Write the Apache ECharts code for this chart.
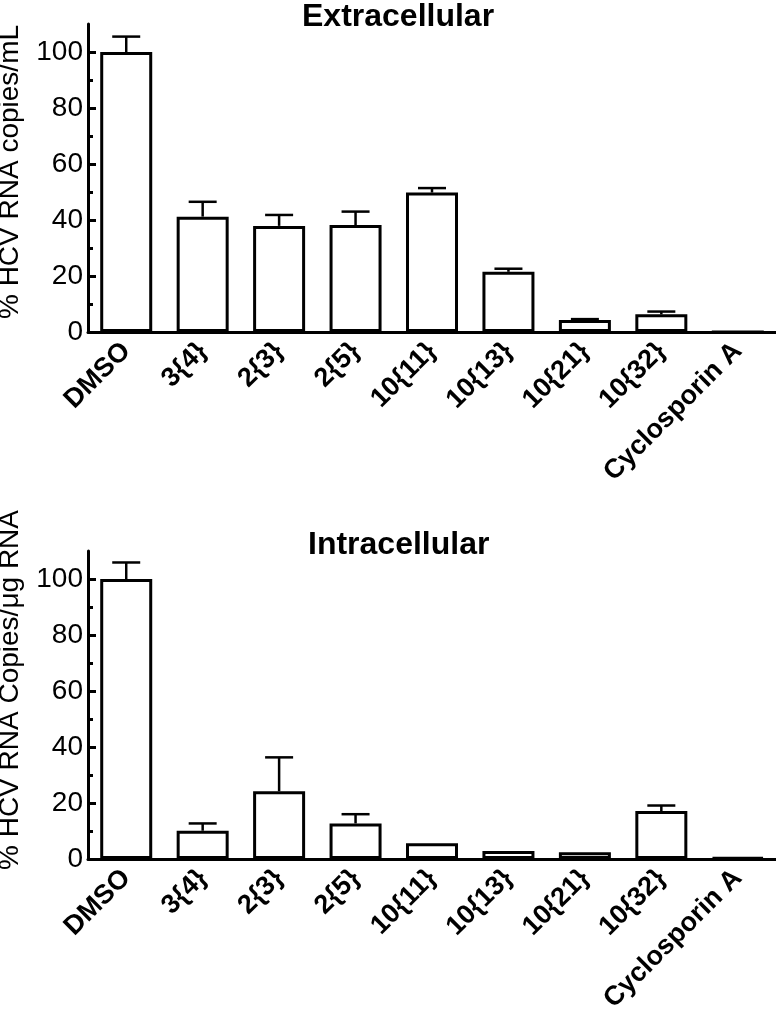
<!DOCTYPE html>
<html>
<head>
<meta charset="utf-8">
<script src="https://cdn.jsdelivr.net/npm/echarts@6/dist/echarts.min.js"></script>
<style>
html,body{margin:0;padding:0;background:#fff;}
#chart{width:776px;height:1020px;}
</style>
</head>
<body>
<div id="chart"></div>
<script>
var categories = ['DMSO', '3{4}', '2{3}', '2{5}', '10{11}', '10{13}', '10{21}', '10{32}', 'Cyclosporin A'];
var extraMean = [100, 41.2, 37.9, 38.2, 49.8, 21.5, 4.3, 6.3, 0];
var extraErr  = [5.5, 5.3, 3.9, 4.8, 1.6, 1.1, 0.3, 1.0, 0];
var intraMean = [100, 10.1, 24.2, 12.7, 5.6, 2.9, 2.4, 17.1, 0.5];
var intraErr  = [5.9, 2.6, 12.1, 3.3, 0, 0, 0, 2.0, 0];
var majorTicks = [0, 20, 40, 60, 80, 100];
var minorTicks = [10, 30, 50, 70, 90];
var titles = ['Extracellular', 'Intracellular'];
var yNames = ['% HCV RNA copies/mL', '% HCV RNA Copies/\u03bcg RNA'];

var FONT = '"Liberation Sans", Arial, sans-serif';

function errData(mean, err) {
  return mean.map(function (m, i) { return [i, m, err[i]]; });
}

function renderErr(params, api) {
  var x = api.value(0), y = api.value(1), e = api.value(2);
  if (!e) return null;
  var p0 = api.coord([x, y]);
  var p1 = api.coord([x, y + e]);
  var st = { stroke: '#000', lineWidth: 2.5 };
  return {
    type: 'group',
    children: [
      { type: 'line', shape: { x1: p0[0], y1: p0[1], x2: p1[0], y2: p1[1] }, style: st },
      { type: 'line', shape: { x1: p1[0] - 14, y1: p1[1], x2: p1[0] + 14, y2: p1[1] }, style: st }
    ]
  };
}

var grids = [
  { left: 88, right: 0, top: 24, height: 308, containLabel: false, outerBoundsMode: 'none' },
  { left: 88, right: 0, top: 551, height: 308, containLabel: false, outerBoundsMode: 'none' }
];

var xAxes = [], yAxes = [], series = [], titleOpts = [];
var titleTops = [1, 529];
var titleLefts = [302, 308];
var namePads = [[0, 0, 0, 12], [0, 0, 0, 30]];
var means = [extraMean, intraMean], errs = [extraErr, intraErr];

for (var g = 0; g < 2; g++) {
  titleOpts.push({
    text: titles[g], left: titleLefts[g], top: titleTops[g], padding: 0,
    textStyle: { fontFamily: FONT, fontSize: 32, fontWeight: 'bold', color: '#000' }
  });
  xAxes.push({
    type: 'category', gridIndex: g, data: categories,
    axisLine: { lineStyle: { color: '#000', width: 3 } },
    axisTick: { show: false },
    axisLabel: { interval: 0, rotate: 45, margin: 15, color: '#000', fontFamily: FONT, fontSize: 27, fontWeight: 'bold' },
    splitLine: { show: false }
  });
  yAxes.push({
    type: 'value', gridIndex: g, min: 0, max: 110, position: 'left',
    name: yNames[g], nameLocation: 'middle', nameGap: 64,
    nameTextStyle: { fontFamily: FONT, fontSize: 28, color: '#000', padding: namePads[g] },
    axisLine: { show: true, lineStyle: { color: '#000', width: 3 } },
    axisTick: { show: true, inside: true, length: 8, lineStyle: { color: '#000', width: 3 }, customValues: majorTicks },
    axisLabel: { customValues: majorTicks, margin: 5, color: '#000', fontFamily: FONT, fontSize: 28 },
    splitLine: { show: false }
  });
  yAxes.push({
    type: 'value', gridIndex: g, min: 0, max: 110, position: 'left', offset: 0,
    axisLine: { show: false },
    axisTick: { show: true, inside: true, length: 5, lineStyle: { color: '#000', width: 3 }, customValues: minorTicks },
    axisLabel: { show: false },
    splitLine: { show: false }
  });
  series.push({
    type: 'bar', xAxisIndex: g, yAxisIndex: g * 2, data: means[g], barWidth: 52,
    itemStyle: { color: '#fff', borderColor: '#000', borderWidth: 3 },
    silent: true, animation: false
  });
  series.push({
    type: 'custom', xAxisIndex: g, yAxisIndex: g * 2, data: errData(means[g], errs[g]),
    encode: { x: 0, y: 1 }, renderItem: renderErr, z: 3, silent: true, animation: false
  });
}

var chart = echarts.init(document.getElementById('chart'));
chart.setOption({
  backgroundColor: '#fff',
  animation: false,
  title: titleOpts,
  grid: grids,
  xAxis: xAxes,
  yAxis: yAxes,
  series: series
});
</script>
</body>
</html>
